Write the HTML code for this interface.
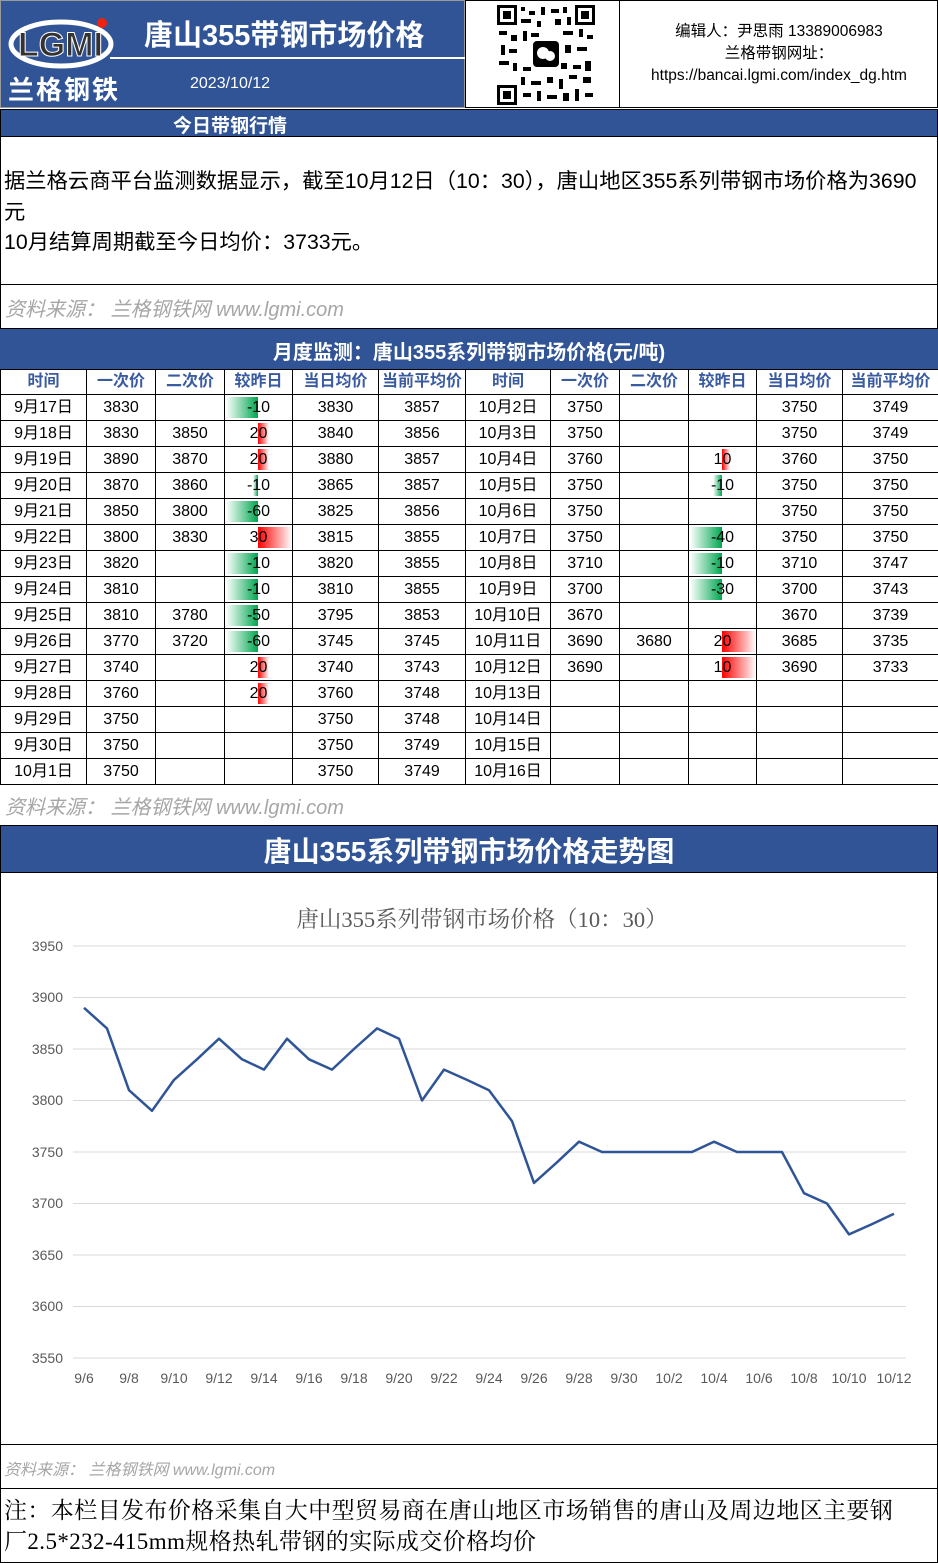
<!DOCTYPE html>
<html><head><meta charset="utf-8"><style>
*{margin:0;padding:0;box-sizing:border-box}
body{width:938px;height:1563px;background:#fff;position:relative;overflow:hidden;font-family:"Liberation Sans","Noto Sans CJK SC",sans-serif;color:#000}
.a{position:absolute}
.blue{background:#305496;color:#fff}
table{position:absolute;left:0;top:369px;border-collapse:collapse;table-layout:fixed;width:938px}
td{border:1px solid #000;height:26px;text-align:center;font-size:16px;line-height:18px;position:relative;padding:0;white-space:nowrap;vertical-align:middle;overflow:hidden}
tr.h td{height:25px;color:#3a5ba0;font-weight:bold;font-size:16px}
.g{position:absolute;top:2px;bottom:2px;background:linear-gradient(to right,#fff,#00a650)}
.r{position:absolute;top:2px;bottom:2px;background:linear-gradient(to right,#f00,#fff)}
td span{position:relative}
.src{color:#a6a6a6;font-style:italic}
</style></head><body>
<div class="a blue" style="left:0;top:0;width:465px;height:108px;border:1px solid #999"></div>
<svg class="a" style="left:6px;top:12px" width="110" height="60"><ellipse cx="55" cy="32" rx="50" ry="22" fill="none" stroke="#fff" stroke-width="5"/><text x="12" y="44" font-size="34" font-weight="bold" fill="#333" stroke="#fff" stroke-width="1" font-family="Liberation Sans">LGMI</text><circle cx="96" cy="11" r="5" fill="#e21"/></svg>
<div class="a" style="left:8px;top:70px;font-size:26px;color:#fff;font-weight:bold;letter-spacing:2px">兰格钢铁</div>
<div class="a" style="left:144px;top:12px;font-size:29px;color:#fff;font-weight:bold">唐山355带钢市场价格</div>
<div class="a" style="left:110px;top:57px;width:355px;height:2px;background:#fff"></div>
<div class="a" style="left:190px;top:75px;font-size:16px;color:#fff">2023/10/12</div>
<div class="a" style="left:465px;top:0;width:473px;height:108px;border:1px solid #000"></div>
<div class="a" style="left:619px;top:0;width:1px;height:108px;background:#000"></div>
<svg class="a" style="left:497px;top:5px" width="98" height="100"><rect width="98" height="100" fill="#fff"/><g fill="#000"><rect x="0" y="0" width="20" height="20"/><rect x="78" y="0" width="20" height="20"/><rect x="0" y="80" width="20" height="20"/></g><g fill="#fff"><rect x="3" y="3" width="14" height="14"/><rect x="81" y="3" width="14" height="14"/><rect x="3" y="83" width="14" height="14"/></g><g fill="#000"><rect x="6" y="6" width="8" height="8"/><rect x="84" y="6" width="8" height="8"/><rect x="6" y="86" width="8" height="8"/></g><path d="M24 2h4v4h-4zM32 6h6v4h-6zM44 2h4v8h-4zM54 4h8v4h-8zM66 2h4v6h-4zM24 14h10v4h-10zM40 16h4v6h-4zM58 14h6v6h-6zM70 12h4v8h-4zM2 26h8v4h-8zM14 30h6v6h-6zM26 26h4v10h-4zM34 28h8v4h-8zM66 26h10v4h-10zM82 24h4v8h-4zM90 30h6v4h-6zM4 40h4v10h-4zM12 44h8v4h-8zM68 40h6v8h-6zM80 42h10v4h-10zM2 56h10v4h-10zM16 58h4v8h-4zM26 62h8v4h-8zM64 58h6v6h-6zM76 60h8v4h-8zM88 56h6v10h-6zM24 72h4v8h-4zM34 76h10v4h-10zM50 72h6v6h-6zM62 74h4v10h-4zM72 70h8v4h-8zM86 72h8v6h-8zM26 88h8v4h-8zM40 86h4v10h-4zM50 90h10v4h-10zM66 88h6v8h-6zM78 84h4v12h-4zM88 88h8v4h-8z" fill="#000"/><rect x="36" y="36" width="26" height="26" rx="4" fill="#000"/><circle cx="46" cy="48" r="6" fill="#fff"/><circle cx="53" cy="51" r="5" fill="#fff"/></svg>
<div class="a" style="left:620px;top:21px;width:318px;text-align:center;font-size:15.5px;line-height:22px">编辑人：尹思雨 13389006983<br>兰格带钢网址：<br>https://bancai.lgmi.com/index_dg.htm</div>
<div class="a blue" style="left:0;top:109px;width:938px;height:28px;border:1px solid #000"></div>
<div class="a" style="left:173px;top:111px;font-size:19px;color:#fff;font-weight:bold">今日带钢行情</div>
<div class="a" style="left:0;top:137px;width:938px;height:148px;border:1px solid #000;border-top:0"></div>
<div class="a" style="left:4px;top:166px;font-size:21.3px;line-height:30.5px;width:925px">据兰格云商平台监测数据显示，截至10月12日（10：30），唐山地区355系列带钢市场价格为3690元<br>10月结算周期截至今日均价：3733元。</div>
<div class="a" style="left:0;top:285px;width:938px;height:44px;border:1px solid #000;border-top:0"></div>
<div class="a src" style="left:5px;top:293px;font-size:20px">资料来源： 兰格钢铁网 www.lgmi.com</div>
<div class="a blue" style="left:0;top:329px;width:938px;height:40px"></div>
<div class="a" style="left:0;top:336px;width:938px;text-align:center;font-size:20px;color:#fff;font-weight:bold">月度监测：唐山355系列带钢市场价格(元/吨)</div>
<table>
<colgroup><col style="width:86px"><col style="width:69px"><col style="width:69px"><col style="width:68px"><col style="width:86px"><col style="width:87px"><col style="width:85px"><col style="width:69px"><col style="width:69px"><col style="width:68px"><col style="width:86px"><col style="width:96px"></colgroup>
<tr class="h"><td>时间</td><td>一次价</td><td>二次价</td><td>较昨日</td><td>当日均价</td><td>当前平均价</td><td>时间</td><td>一次价</td><td>二次价</td><td>较昨日</td><td>当日均价</td><td>当前平均价</td></tr>
<tr><td>9月17日</td><td>3830</td><td></td><td><div class="g" style="left:1px;width:32px"></div><span>-10</span></td><td>3830</td><td>3857</td><td>10月2日</td><td>3750</td><td></td><td></td><td>3750</td><td>3749</td></tr>
<tr><td>9月18日</td><td>3830</td><td>3850</td><td><div class="r" style="left:33px;width:11px"></div><span>20</span></td><td>3840</td><td>3856</td><td>10月3日</td><td>3750</td><td></td><td></td><td>3750</td><td>3749</td></tr>
<tr><td>9月19日</td><td>3890</td><td>3870</td><td><div class="r" style="left:33px;width:11px"></div><span>20</span></td><td>3880</td><td>3857</td><td>10月4日</td><td>3760</td><td></td><td><div class="r" style="left:33px;width:8px"></div><span>10</span></td><td>3760</td><td>3750</td></tr>
<tr><td>9月20日</td><td>3870</td><td>3860</td><td><div class="g" style="left:28px;width:5px"></div><span>-10</span></td><td>3865</td><td>3857</td><td>10月5日</td><td>3750</td><td></td><td><div class="g" style="left:24px;width:9px"></div><span>-10</span></td><td>3750</td><td>3750</td></tr>
<tr><td>9月21日</td><td>3850</td><td>3800</td><td><div class="g" style="left:1px;width:32px"></div><span>-60</span></td><td>3825</td><td>3856</td><td>10月6日</td><td>3750</td><td></td><td></td><td>3750</td><td>3750</td></tr>
<tr><td>9月22日</td><td>3800</td><td>3830</td><td><div class="r" style="left:33px;width:34px"></div><span>30</span></td><td>3815</td><td>3855</td><td>10月7日</td><td>3750</td><td></td><td><div class="g" style="left:1px;width:32px"></div><span>-40</span></td><td>3750</td><td>3750</td></tr>
<tr><td>9月23日</td><td>3820</td><td></td><td><div class="g" style="left:1px;width:32px"></div><span>-10</span></td><td>3820</td><td>3855</td><td>10月8日</td><td>3710</td><td></td><td><div class="g" style="left:1px;width:32px"></div><span>-10</span></td><td>3710</td><td>3747</td></tr>
<tr><td>9月24日</td><td>3810</td><td></td><td><div class="g" style="left:1px;width:32px"></div><span>-10</span></td><td>3810</td><td>3855</td><td>10月9日</td><td>3700</td><td></td><td><div class="g" style="left:1px;width:32px"></div><span>-30</span></td><td>3700</td><td>3743</td></tr>
<tr><td>9月25日</td><td>3810</td><td>3780</td><td><div class="g" style="left:1px;width:32px"></div><span>-50</span></td><td>3795</td><td>3853</td><td>10月10日</td><td>3670</td><td></td><td></td><td>3670</td><td>3739</td></tr>
<tr><td>9月26日</td><td>3770</td><td>3720</td><td><div class="g" style="left:1px;width:32px"></div><span>-60</span></td><td>3745</td><td>3745</td><td>10月11日</td><td>3690</td><td>3680</td><td><div class="r" style="left:33px;width:34px"></div><span>20</span></td><td>3685</td><td>3735</td></tr>
<tr><td>9月27日</td><td>3740</td><td></td><td><div class="r" style="left:33px;width:11px"></div><span>20</span></td><td>3740</td><td>3743</td><td>10月12日</td><td>3690</td><td></td><td><div class="r" style="left:33px;width:34px"></div><span>10</span></td><td>3690</td><td>3733</td></tr>
<tr><td>9月28日</td><td>3760</td><td></td><td><div class="r" style="left:33px;width:11px"></div><span>20</span></td><td>3760</td><td>3748</td><td>10月13日</td><td></td><td></td><td></td><td></td><td></td></tr>
<tr><td>9月29日</td><td>3750</td><td></td><td></td><td>3750</td><td>3748</td><td>10月14日</td><td></td><td></td><td></td><td></td><td></td></tr>
<tr><td>9月30日</td><td>3750</td><td></td><td></td><td>3750</td><td>3749</td><td>10月15日</td><td></td><td></td><td></td><td></td><td></td></tr>
<tr><td>10月1日</td><td>3750</td><td></td><td></td><td>3750</td><td>3749</td><td>10月16日</td><td></td><td></td><td></td><td></td><td></td></tr>
</table>
<div class="a src" style="left:5px;top:791px;font-size:20px">资料来源： 兰格钢铁网 www.lgmi.com</div>
<div class="a blue" style="left:0;top:825px;width:938px;height:48px;border:1px solid #000"></div>
<div class="a" style="left:0;top:830px;width:938px;text-align:center;font-size:28px;color:#fff;font-weight:bold">唐山355系列带钢市场价格走势图</div>
<div class="a" style="left:0;top:873px;width:938px;height:572px;border:1px solid #000;border-top:0"></div>
<svg class="a" style="left:0;top:873px" width="938" height="570">
<text x="482" y="54" text-anchor="middle" font-size="22.5" fill="#595959" font-family="Liberation Serif,Noto Serif CJK SC,serif">唐山355系列带钢市场价格（10：30）</text>
<g stroke="#d9d9d9" stroke-width="1">
<line x1="73" x2="906" y1="73" y2="73"/><line x1="73" x2="906" y1="124.5" y2="124.5"/><line x1="73" x2="906" y1="176" y2="176"/><line x1="73" x2="906" y1="227.5" y2="227.5"/><line x1="73" x2="906" y1="279" y2="279"/><line x1="73" x2="906" y1="330.5" y2="330.5"/><line x1="73" x2="906" y1="382" y2="382"/><line x1="73" x2="906" y1="433.5" y2="433.5"/><line x1="73" x2="906" y1="485" y2="485"/></g>
<g font-size="14" fill="#595959" text-anchor="end"><text x="63" y="78">3950</text><text x="63" y="129">3900</text><text x="63" y="181">3850</text><text x="63" y="232">3800</text><text x="63" y="284">3750</text><text x="63" y="335">3700</text><text x="63" y="387">3650</text><text x="63" y="438">3600</text><text x="63" y="490">3550</text></g>
<g font-size="14" fill="#595959" text-anchor="middle"><text x="84" y="510">9/6</text><text x="129" y="510">9/8</text><text x="174" y="510">9/10</text><text x="219" y="510">9/12</text><text x="264" y="510">9/14</text><text x="309" y="510">9/16</text><text x="354" y="510">9/18</text><text x="399" y="510">9/20</text><text x="444" y="510">9/22</text><text x="489" y="510">9/24</text><text x="534" y="510">9/26</text><text x="579" y="510">9/28</text><text x="624" y="510">9/30</text><text x="669" y="510">10/2</text><text x="714" y="510">10/4</text><text x="759" y="510">10/6</text><text x="804" y="510">10/8</text><text x="849" y="510">10/10</text><text x="894" y="510">10/12</text></g>
<polyline fill="none" stroke="#2f5597" stroke-width="2.5" stroke-linejoin="round" points="84,134.8 107,155.4 129,217.2 152,237.8 174,206.9 197,186.3 219,165.7 242,186.3 264,196.6 287,165.7 309,186.3 332,196.6 354,176 377,155.4 399,165.7 422,227.5 444,196.6 467,206.9 489,217.2 512,248.1 534,309.9 557,289.3 579,268.7 602,279 624,279 647,279 669,279 692,279 714,268.7 737,279 759,279 782,279 804,320.2 827,330.5 849,361.4 872,351.1 894,340.8"/>
</svg>
<div class="a" style="left:0;top:1444px;width:938px;height:45px;border:1px solid #000;border-top:0"></div>
<div class="a src" style="left:4px;top:1456px;font-size:16px">资料来源： 兰格钢铁网 www.lgmi.com</div>
<div class="a" style="left:0;top:1489px;width:938px;height:74px;border:1px solid #000;border-top:0"></div>
<div class="a" style="left:4px;top:1495px;font-size:23px;letter-spacing:0.4px;line-height:31px;font-family:'Liberation Serif','Noto Serif CJK SC',serif;width:912px">注：本栏目发布价格采集自大中型贸易商在唐山地区市场销售的唐山及周边地区主要钢厂2.5*232-415mm规格热轧带钢的实际成交价格均价</div>
</body></html>
